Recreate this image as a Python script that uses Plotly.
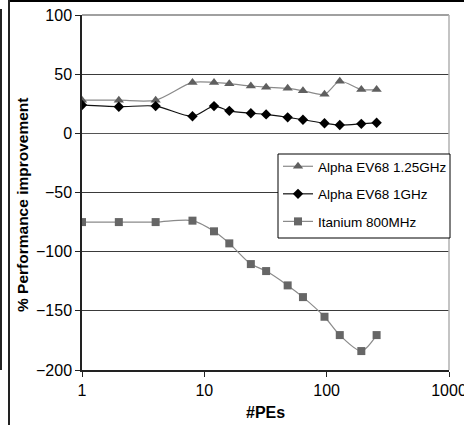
import plotly.graph_objects as go

pes = [1, 2, 4, 8, 12, 16, 24, 32, 48, 64, 96, 128, 192, 256]
ev68_125 = [28, 28, 28, 43, 43, 42, 40, 39, 38, 36, 33, 44, 37, 37]
ev68_1 = [24, 22.5, 23, 14.5, 23, 19, 17, 16, 13.5, 11.5, 8.5, 7, 8, 9]
itanium = [-75, -75, -75, -73.8, -82.8, -93, -110.5, -116.4, -128.5, -138.4, -155, -170.5, -184, -170.5]

FONT = "Liberation Sans, Arial, sans-serif"

fig = go.Figure()
fig.add_trace(go.Scatter(
    x=pes, y=ev68_125, name="Alpha EV68 1.25GHz", mode="lines+markers",
    line=dict(color="#8a8a8a", width=1.2, shape="spline", smoothing=0.8),
    marker=dict(symbol="triangle-up", size=9, color="#5f5f5f"),
    legendgroup="a"))
fig.add_trace(go.Scatter(
    x=pes, y=ev68_1, name="Alpha EV68 1GHz", mode="lines+markers",
    line=dict(color="#111111", width=1.2, shape="spline", smoothing=0.8),
    marker=dict(symbol="diamond", size=8, color="#000000"),
    legendgroup="b"))
fig.add_trace(go.Scatter(
    x=pes, y=itanium, name="Itanium 800MHz", mode="lines+markers",
    line=dict(color="#8a8a8a", width=1.2, shape="spline", smoothing=0.8),
    marker=dict(symbol="square", size=8, color="#666666"),
    legendgroup="c"))

def px2x(px):
    return (px - 82) / 367.0

def py2y(py):
    return (370 - py) / 355.0

shapes = [
    # plot area gray top/right border
    dict(type="line", xref="paper", yref="paper", x0=0, x1=1, y0=1, y1=1,
         line=dict(color="#808080", width=1.5)),
    dict(type="line", xref="paper", yref="paper", x0=1, x1=1, y0=0, y1=1,
         line=dict(color="#b0b0b0", width=1.5)),
    # legend box
    dict(type="rect", xref="paper", yref="paper", x0=px2x(278), x1=px2x(450), y0=py2y(238), y1=py2y(154),
         line=dict(color="#000000", width=1), fillcolor="white", layer="above"),
    # outer frame lines
    dict(type="line", xref="paper", yref="paper", x0=px2x(9), x1=px2x(470), y0=py2y(1), y1=py2y(1),
         line=dict(color="#000000", width=2)),
    dict(type="line", xref="paper", yref="paper", x0=px2x(9), x1=px2x(9), y0=py2y(0), y1=py2y(430),
         line=dict(color="#222222", width=2)),
    dict(type="line", xref="paper", yref="paper", x0=px2x(1), x1=px2x(1), y0=py2y(9), y1=py2y(370),
         line=dict(color="#222222", width=2)),
]

annotations = [
    dict(text="<b>% Performance improvement</b>", xref="paper", yref="paper",
         x=px2x(23), y=py2y(205), showarrow=False, textangle=-90,
         xanchor="center", yanchor="middle", font=dict(family=FONT, size=15.5, color="black")),
    dict(text="<b>#PEs</b>", xref="paper", yref="paper",
         x=px2x(265), y=py2y(412), showarrow=False,
         xanchor="center", yanchor="middle", font=dict(family=FONT, size=16, color="black")),
]

fig.update_layout(
    width=464, height=425,
    margin=dict(l=82, r=15, t=15, b=55, autoexpand=False),
    paper_bgcolor="white", plot_bgcolor="white",
    font=dict(family=FONT, size=16, color="black"),
    showlegend=True,
    legend=dict(
        x=px2x(278), y=py2y(151), xanchor="left", yanchor="top",
        bgcolor="rgba(0,0,0,0)", borderwidth=0,
        font=dict(family=FONT, size=13.5, color="black"),
        traceorder="grouped", tracegroupgap=7,
    ),
    shapes=shapes,
    annotations=annotations,
    xaxis=dict(
        type="log", range=[0, 3], tickvals=[1, 10, 100, 1000], ticktext=["1", "10", "100", "1000"],
        ticklabeloverflow="allow", automargin=False,
        showgrid=False, zeroline=False, showline=True, linecolor="#222222", linewidth=1.5,
        ticks="outside", ticklen=5, tickcolor="#222222",
        tickfont=dict(size=16),
    ),
    yaxis=dict(
        range=[-200, 100], dtick=50, tick0=0, automargin=False,
        showgrid=True, gridcolor="#3a3a3a", gridwidth=1,
        zeroline=True, zerolinecolor="#555555", zerolinewidth=1,
        showline=True, linecolor="#222222", linewidth=1.5,
        ticks="outside", ticklen=5, tickcolor="#222222",
        tickfont=dict(size=16),
    ),
)

fig.write_html("out.html")
